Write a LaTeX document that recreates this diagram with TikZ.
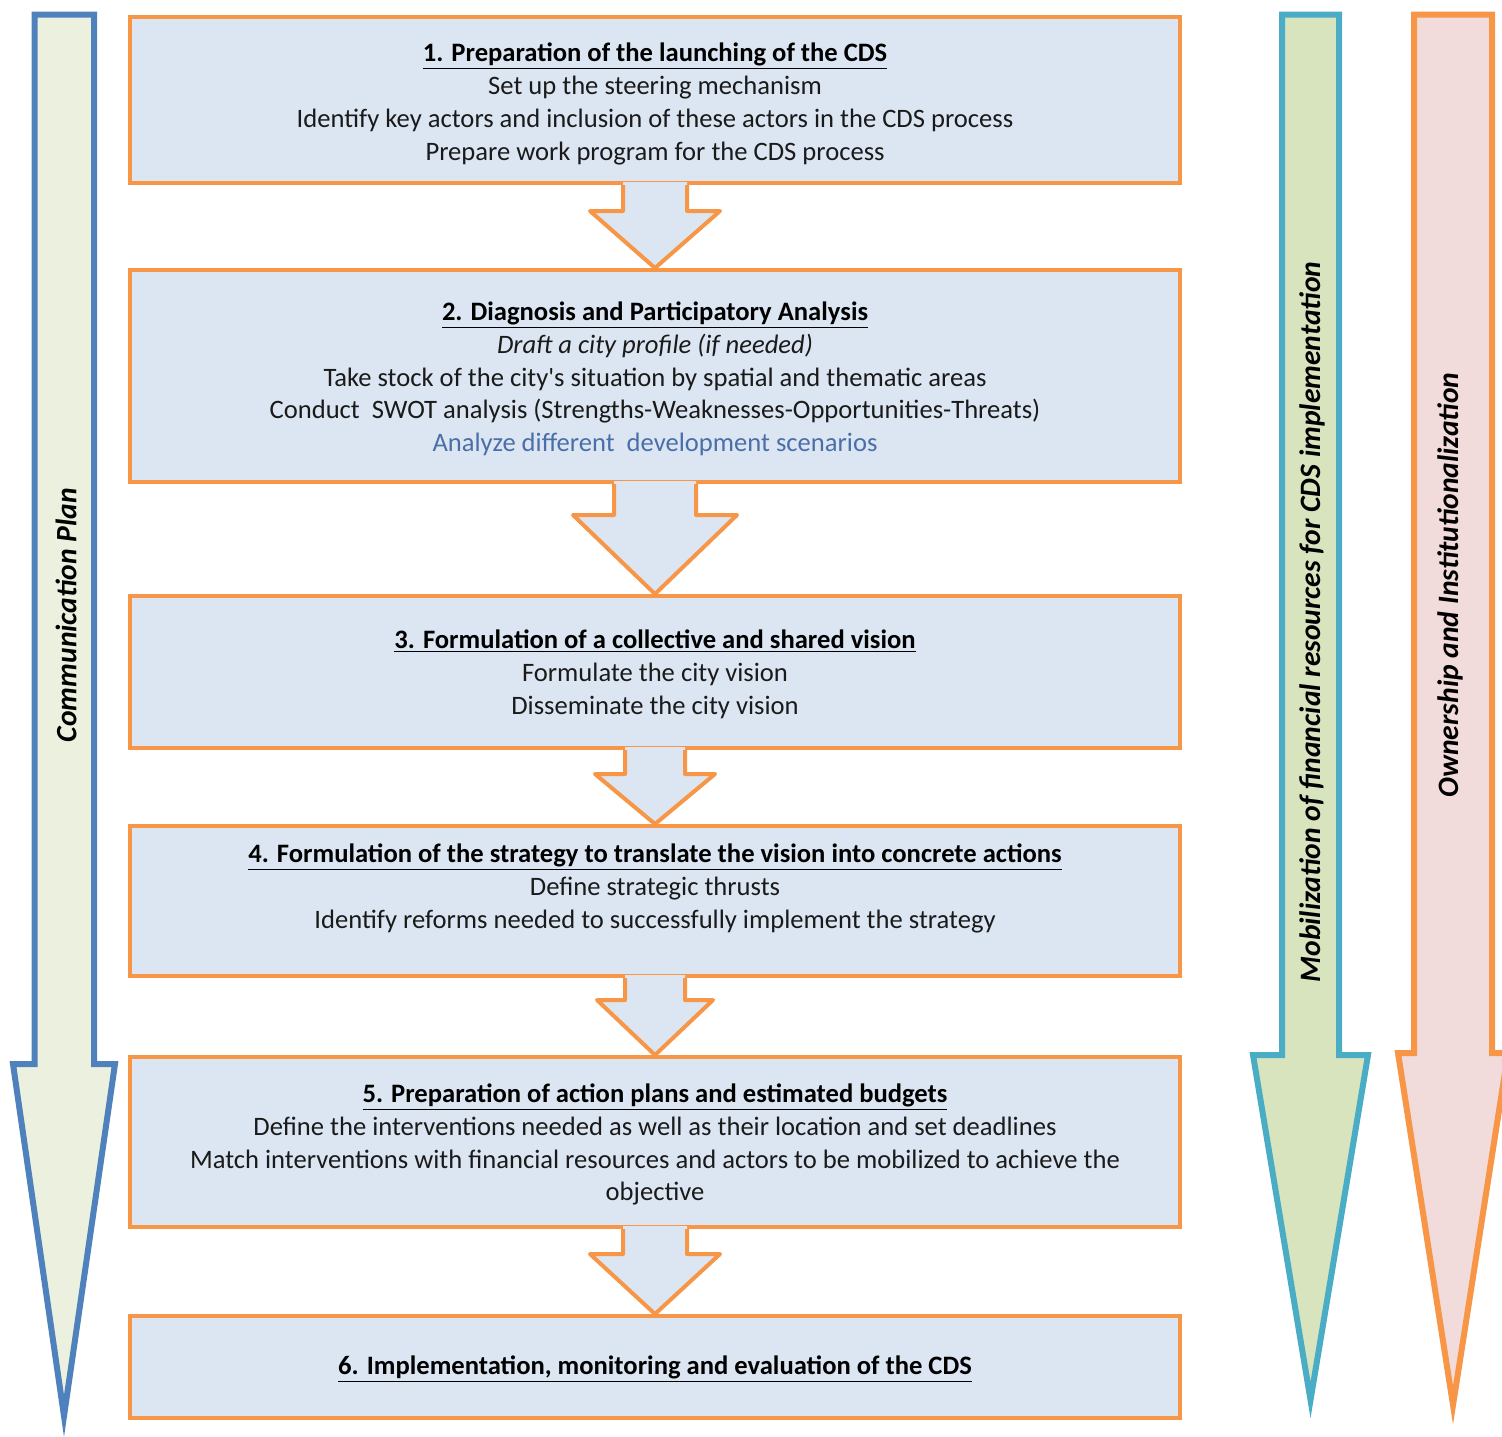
\documentclass[tikz,border=0pt]{standalone}
\usepackage{fontspec}
\setmainfont{Carlito}
\usetikzlibrary{calc}
\definecolor{boxfill}{HTML}{DCE6F2}
\definecolor{orangeline}{HTML}{F79646}
\definecolor{blueline}{HTML}{4F81BD}
\definecolor{leftfill}{HTML}{EBF1DE}
\definecolor{tealline}{HTML}{4BACC6}
\definecolor{midfill}{HTML}{D7E4BD}
\definecolor{pinkfill}{HTML}{F2DCDB}
\definecolor{bodytext}{HTML}{1A1A1A}
\definecolor{bluetext}{HTML}{4A6FA8}
\tikzset{
  stagebox/.style={draw=orangeline, fill=boxfill, line width=2pt, rectangle, minimum width=525pt, inner sep=0pt},
  txt/.style={anchor=base, inner sep=0pt, font=\fontsize{13.3}{15}\selectfont, text=bodytext},
  ttl/.style={txt, font=\fontsize{13.3}{15}\selectfont\bfseries, text=black},
  sidelabel/.style={rotate=90, inner sep=0pt, font=\fontsize{14.8}{17}\selectfont\bfseries\itshape, text=black},
  sidearrow/.style={line width=3pt, line join=miter},
}
\newcommand\blockarrow[5]{%
  \fill[boxfill] ($(#1.south)+(-#3,-3)$) -- ($(#1.south)+(-#3,#5)$) -- ($(#1.south)+(-#4,#5)$) -- (#2.north) -- ($(#1.south)+(#4,#5)$) -- ($(#1.south)+(#3,#5)$) -- ($(#1.south)+(#3,-3)$) -- cycle;
  \draw[orangeline, line width=2pt, line join=round] ($(#1.south)+(-#3,0)$) -- ($(#1.south)+(-#3,#5)$) -- ($(#1.south)+(-#4,#5)$) -- (#2.north) -- ($(#1.south)+(#4,#5)$) -- ($(#1.south)+(#3,#5)$) -- ($(#1.south)+(#3,0)$);
}
\begin{document}
\begin{tikzpicture}[x=0.5pt, y=-0.5pt]
\useasboundingbox (0,0) rectangle (1502,1436);
% side arrows
\draw[sidearrow, draw=blueline, fill=leftfill] (34.5,14.5) -- (94,14.5) -- (94,1064) -- (115,1064) -- (64,1416) -- (13,1064) -- (34.5,1064) -- cycle;
\draw[sidearrow, draw=tealline, fill=midfill] (1282,14.5) -- (1339,14.5) -- (1339,1055) -- (1368,1055) -- (1310.5,1400) -- (1253,1055) -- (1282,1055) -- cycle;
\draw[sidearrow, draw=orangeline, fill=pinkfill] (1414,14.5) -- (1492,14.5) -- (1492,1053) -- (1508,1053) -- (1453,1405) -- (1398,1053) -- (1414,1053) -- cycle;
\node[sidelabel] (lcomm) at (66,615) {Communication Plan};
\node[sidelabel] (lmob) at (1312,622) {Mobilization of financial resources for CDS implementation};
\node[sidelabel] (lown) at (1450,585) {Ownership and Institutionalization};
% boxes
\node[stagebox, minimum height=83pt] (b1) at (655,100) {};
\node[stagebox, minimum height=106pt] (b2) at (655,376) {};
\node[stagebox, minimum height=76pt] (b3) at (655,672) {};
\node[stagebox, minimum height=75pt] (b4) at (655,901) {};
\node[stagebox, minimum height=85pt] (b5) at (655,1142) {};
\node[stagebox, minimum height=51pt] (b6) at (655,1367) {};
% connectors
\blockarrow{b1}{b2}{32}{65}{26}
\blockarrow{b2}{b3}{41}{82}{31}
\blockarrow{b3}{b4}{30}{60}{24}
\blockarrow{b4}{b5}{30}{58}{22}
\blockarrow{b5}{b6}{32}{65}{25}
% texts box 1
\node[ttl] (t1) at (655,61) {\underline{1. Preparation of the launching of the CDS}};
\node[txt] (t1a) at (655,94) {Set up the steering mechanism};
\node[txt] (t1b) at (655,127) {Identify key actors and inclusion of these actors in the CDS process};
\node[txt] (t1c) at (655,160) {Prepare work program for the CDS process};
% box 2
\node[ttl] (t2) at (655,320) {\underline{2. Diagnosis and Participatory Analysis}};
\node[txt, font=\fontsize{13.3}{15}\selectfont\itshape] (t2a) at (655,353) {Draft a city profile (if needed)};
\node[txt] (t2b) at (655,386) {Take stock of the city\textquotesingle s situation by spatial and thematic areas};
\node[txt] (t2c) at (655,418) {Conduct\ \ SWOT analysis (Strengths-Weaknesses-Opportunities-Threats)};
\node[txt, text=bluetext] (t2d) at (655,451) {Analyze different\ \ development scenarios};
% box 3
\node[ttl] (t3) at (655,648) {\underline{3. Formulation of a collective and shared vision}};
\node[txt] (t3a) at (655,681) {Formulate the city vision};
\node[txt] (t3b) at (655,714) {Disseminate the city vision};
% box 4
\node[ttl] (t4) at (655,862) {\underline{4. Formulation of the strategy to translate the vision into concrete actions}};
\node[txt] (t4a) at (655,895) {Define strategic thrusts};
\node[txt] (t4b) at (655,928) {Identify reforms needed to successfully implement the strategy};
% box 5
\node[ttl] (t5) at (655,1102) {\underline{5. Preparation of action plans and estimated budgets}};
\node[txt] (t5a) at (655,1135) {Define the interventions needed as well as their location and set deadlines};
\node[txt] (t5b) at (655,1168) {Match interventions with financial resources and actors to be mobilized to achieve the};
\node[txt] (t5c) at (655,1200) {objective};
% box 6
\node[ttl] (t6) at (655,1374) {\underline{6. Implementation, monitoring and evaluation of the CDS}};
\end{tikzpicture}
\end{document}
